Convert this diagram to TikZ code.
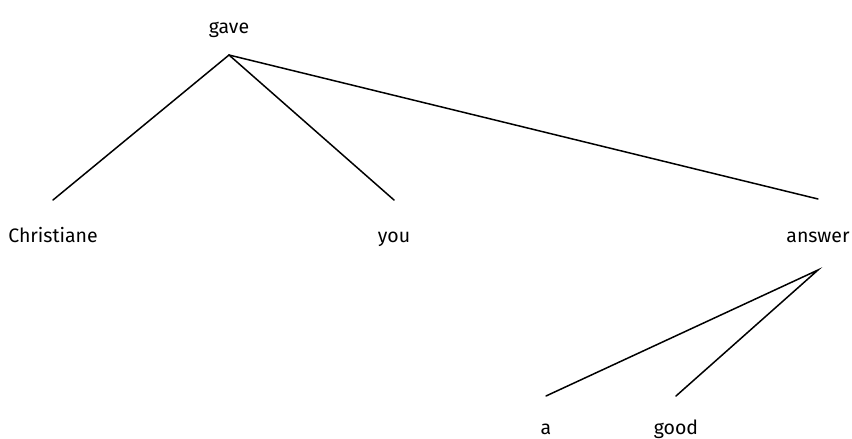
\documentclass[tikz,border=0pt]{standalone}
\usepackage{fontspec}
\setmainfont{Fira Sans}
\begin{document}
\begin{tikzpicture}[x=1pt,y=-1pt,
  word/.style={font=\fontsize{19.5}{22}\selectfont, inner sep=0pt, anchor=base},
  edge/.style={line width=1.5pt, line cap=round}]
\useasboundingbox (0,0) rectangle (852,439);
% words
\node[word] (gave) at (229,33) {gave};
\node[word] (chr)  at (53,242) {Christiane};
\node[word] (you)  at (394,242) {you};
\node[word] (ans)  at (818,242) {answer};
\node[word] (a)    at (546,434) {a};
\node[word] (good) at (676,434) {good};
% attachment points of the branches
\coordinate (gaveB) at (229,55);
\coordinate (chrT)  at (53,200);
\coordinate (youT)  at (394,200);
\coordinate (ansT)  at (818,199);
\coordinate (ansB)  at (818,270);
\coordinate (aT)    at (546,396);
\coordinate (goodT) at (676,396);
% branches
\draw[edge] (chrT) -- (gaveB) -- (youT);
\draw[edge] (gaveB) -- (ansT);
\draw[edge] (aT) -- (ansB) -- (goodT);
\end{tikzpicture}
\end{document}
